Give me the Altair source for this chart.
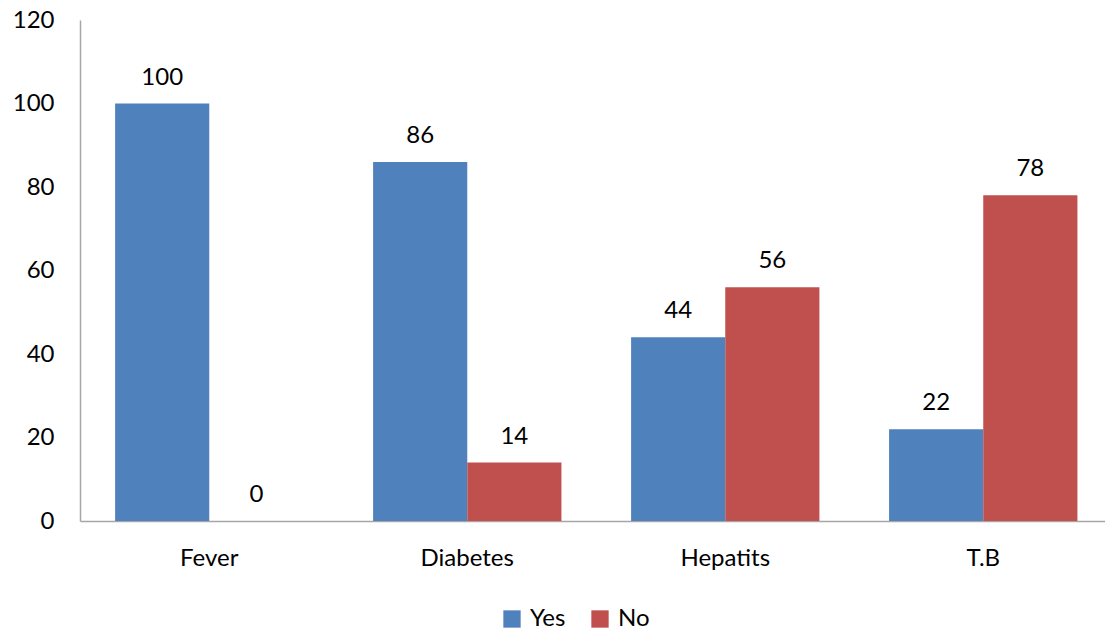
import altair as alt
import pandas as pd

categories = ["Fever", "Diabetes", "Hepatits", "T.B"]
yes_values = [100, 86, 44, 22]
no_values = [0, 14, 56, 78]
series = ["Yes", "No"]
colors = ["#4F81BD", "#C0504D"]

rows = []
for c, y, n in zip(categories, yes_values, no_values):
    rows.append({"cat": c, "series": "Yes", "value": y})
    rows.append({"cat": c, "series": "No", "value": n})
df = pd.DataFrame(rows)

FONT = "Lato"

x = alt.X("cat:N", sort=categories, title=None,
          scale=alt.Scale(paddingInner=0.27, paddingOuter=0.1215, align=0.56),
          axis=alt.Axis(labelAngle=0, labelFontSize=24, labelFont=FONT, labelColor="#000000",
                        ticks=False, domainColor="#A6A6A6", domainWidth=1.5, labelPadding=25))
xo = alt.XOffset("series:N", sort=series, scale=alt.Scale(domain=series, paddingInner=0, paddingOuter=0))
y = alt.Y("value:Q", title=None,
          scale=alt.Scale(domain=[0, 120]),
          axis=alt.Axis(values=[0, 20, 40, 60, 80, 100, 120], grid=False, ticks=False,
                        labelFontSize=24, labelFont=FONT, labelColor="#000000", labelPadding=26,
                        domainColor="#A6A6A6", domainWidth=1.5))

bars = alt.Chart(df).mark_bar().encode(
    x=x, xOffset=xo, y=y,
    color=alt.Color("series:N", sort=series,
                    scale=alt.Scale(domain=series, range=colors),
                    legend=alt.Legend(title=None, orient="none", legendX=420, legendY=587,
                                      direction="horizontal", symbolType="square", symbolSize=300,
                                      symbolStrokeWidth=0, labelFontSize=24, labelFont=FONT,
                                      labelColor="#000000", columnPadding=22, labelOffset=6)),
)

labels = alt.Chart(df).mark_text(fontSize=24, font=FONT, color="#000000", baseline="alphabetic", dy=-19).encode(
    x=x, xOffset=xo, y=y, text=alt.Text("value:Q")
)

chart = (bars + labels).properties(
    width=1025, height=501,
    padding={"left": 80, "top": 20, "right": 0, "bottom": 113},
    autosize=alt.AutoSizeParams(type="none"),
).configure_view(stroke=None)

chart.save("out.html", embed_options={"renderer": "svg", "actions": False})
